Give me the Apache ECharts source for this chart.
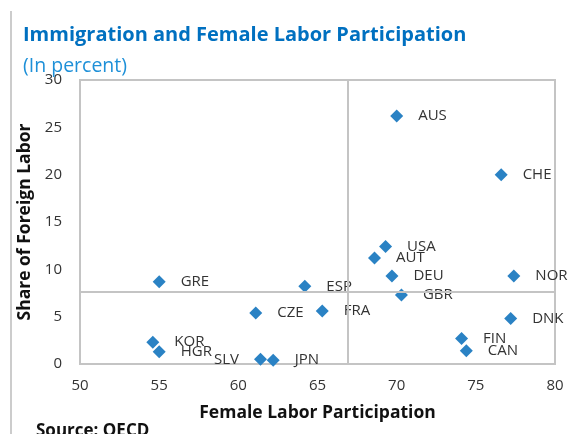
<!DOCTYPE html>
<html>
<head>
<meta charset="utf-8">
<script src="https://cdn.jsdelivr.net/npm/echarts@6/dist/echarts.min.js"></script>
<style>
  html, body { margin: 0; padding: 0; background: #fff; }
  #chart { width: 577px; height: 434px; }
</style>
</head>
<body>
<div id="chart"></div>
<script>
var countries = ['AUS', 'CHE', 'USA', 'AUT', 'DEU', 'NOR', 'GBR', 'DNK', 'FIN', 'CAN',
                 'GRE', 'ESP', 'CZE', 'FRA', 'KOR', 'HGR', 'SLV', 'JPN'];
var femaleLabor = [70.0, 76.6, 69.3, 68.6, 69.7, 77.4, 70.3, 77.2, 74.1, 74.4,
                   55.0, 64.2, 61.1, 65.3, 54.6, 55.0, 61.4, 62.2];
var foreignLabor = [26.2, 20.0, 12.4, 11.2, 9.3, 9.3, 7.3, 4.8, 2.7, 1.4,
                    8.7, 8.2, 5.4, 5.6, 2.3, 1.3, 0.5, 0.4];
var meanFemale = 66.9;
var meanForeign = 7.6;

var font = '"Open Sans", "Noto Sans", sans-serif';
var leftLabels = { SLV: true };

var points = countries.map(function (c, i) {
    return {
        name: c,
        value: [femaleLabor[i], foreignLabor[i]],
        label: { position: leftLabels[c] ? 'left' : 'right' }
    };
});

var chart = echarts.init(document.getElementById('chart'));
chart.setOption({
    animation: false,
    title: [{
        text: 'Immigration and Female Labor Participation',
        left: 18, top: 20,
        textStyle: { color: '#0070C0', fontSize: 20, fontWeight: 'bold', fontFamily: font }
    }, {
        text: '(In percent)',
        left: 18, top: 51,
        textStyle: { color: '#1E90D8', fontSize: 19.5, fontWeight: 'normal', fontFamily: font }
    }, {
        text: 'Source: OECD',
        left: 31, top: 418,
        textStyle: { color: '#111', fontSize: 17, fontWeight: 'bold', fontFamily: font }
    }],
    graphic: [{
        type: 'line',
        shape: { x1: 11, y1: 11, x2: 11, y2: 434 },
        style: { stroke: '#999', lineWidth: 1 }
    }],
    grid: {
        left: 80, right: 22, top: 80, bottom: 70,
        show: true, borderColor: '#c4c4c4', borderWidth: 2
    },
    xAxis: {
        type: 'value', min: 50, max: 80, interval: 5,
        name: 'Female Labor Participation',
        nameLocation: 'middle', nameGap: 40,
        nameTextStyle: { color: '#111', fontSize: 17.5, fontWeight: 'bold', fontFamily: font },
        axisLine: { show: false }, axisTick: { show: false }, splitLine: { show: false },
        axisLabel: { color: '#333', fontSize: 15, margin: 14, fontFamily: font }
    },
    yAxis: {
        type: 'value', min: 0, max: 30, interval: 5,
        name: 'Share of Foreign Labor',
        nameLocation: 'middle', nameGap: 44, nameRotate: 90,
        nameTextStyle: { color: '#111', fontSize: 17.5, fontWeight: 'bold', fontFamily: font },
        axisLine: { show: false }, axisTick: { show: false }, splitLine: { show: false },
        axisLabel: { color: '#333', fontSize: 15, margin: 18, fontFamily: font }
    },
    series: [{
        type: 'scatter',
        symbol: 'diamond',
        symbolSize: [13, 13],
        itemStyle: { color: '#2A82C4', opacity: 1 },
        label: {
            show: true,
            formatter: '{b}',
            distance: 15,
            color: '#333',
            fontSize: 15,
            fontFamily: font
        },
        data: points,
        markLine: {
            silent: true,
            symbol: 'none',
            label: { show: false },
            lineStyle: { color: '#c4c4c4', width: 2, type: 'solid' },
            data: [{ xAxis: meanFemale }, { yAxis: meanForeign }]
        }
    }]
});
</script>
</body>
</html>
